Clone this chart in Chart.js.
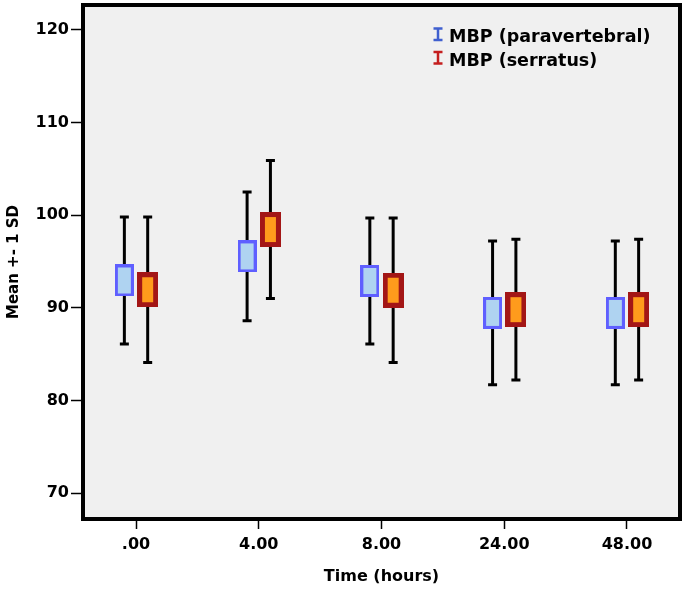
<!DOCTYPE html>
<html>
<head>
<meta charset="utf-8">
<script src="https://cdn.jsdelivr.net/npm/chart.js@4.4.1/dist/chart.umd.min.js"></script>
<style>
  html, body { margin: 0; padding: 0; background: #fff; }
</style>
</head>
<body>
<canvas id="mbpChart" width="685" height="589"></canvas>
<script>
// data
const timeLabels = [".00", "4.00", "8.00", "24.00", "48.00"];
const seriesNames = ["MBP (paravertebral)", "MBP (serratus)"];
const paraMean = [92.95, 95.55, 92.9, 89.45, 89.45];
const paraSD   = [6.85, 6.95, 6.8, 7.75, 7.75];
const serrMean = [91.95, 98.45, 91.9, 89.8, 89.8];
const serrSD   = [7.85, 7.45, 7.8, 7.6, 7.6];
const yTicks = [70, 80, 90, 100, 110, 120];

const FONT = "'DejaVu Sans', sans-serif";
const shift = 0.095; // side-by-side offset of the two groups

// box marker drawn once, used as point style
function boxMarker(w, h, border, stroke, fill) {
    let c = document.createElement("canvas");
    c.width = w; c.height = h;
    let g = c.getContext("2d");
    g.fillStyle = stroke;
    g.fillRect(0, 0, w, h);
    g.fillStyle = fill;
    g.fillRect(border, border, w - 2 * border, h - 2 * border);
    return c;
}
const blueBox = boxMarker(19, 32, 3, "#5f5fff", "#afd3f1");
const redBox = boxMarker(21, 35, 5, "#a31616", "#ff9b1c");

// whiskers (mean +- 1 SD) + background + frame + legend
const errorBars = {
    id: "errorBars",
    beforeDraw(chart) {
        let a = chart.chartArea, ctx = chart.ctx;
        ctx.save();
        ctx.fillStyle = "#f0f0f0";
        ctx.fillRect(a.left, a.top, a.right - a.left, a.bottom - a.top);
        ctx.restore();
    },
    beforeDatasetsDraw(chart) {
        let ctx = chart.ctx, xs = chart.scales.x, ys = chart.scales.y;
        ctx.save();
        ctx.strokeStyle = "#000";
        chart.data.datasets.forEach(ds => {
            ds.data.forEach((p, i) => {
                let x = xs.getPixelForValue(p.x);
                let top = ys.getPixelForValue(p.y + ds.sd[i]);
                let bot = ys.getPixelForValue(p.y - ds.sd[i]);
                ctx.lineWidth = 3;
                ctx.beginPath();
                ctx.moveTo(x, top); ctx.lineTo(x, bot);
                ctx.stroke();
                ctx.beginPath();
                ctx.moveTo(x - 4.5, top); ctx.lineTo(x + 4.5, top);
                ctx.moveTo(x - 4.5, bot); ctx.lineTo(x + 4.5, bot);
                ctx.stroke();
            });
        });
        ctx.restore();
    },
    afterDraw(chart) {
        let a = chart.chartArea, ctx = chart.ctx;
        ctx.save();
        ctx.strokeStyle = "#000";
        ctx.lineWidth = 4;
        ctx.strokeRect(a.left, a.top, a.right - a.left, a.bottom - a.top);

        // legend
        let colors = ["#3f5fcf", "#c41e1e"];
        ctx.font = "bold 17.5px " + FONT;
        ctx.textBaseline = "alphabetic";
        ctx.textAlign = "left";
        seriesNames.forEach((name, k) => {
            let base = 42 + k * 23.5;
            let ix = 438, iy0 = base - 13.5, iy1 = base - 2;
            ctx.strokeStyle = colors[k];
            ctx.lineWidth = 2.5;
            ctx.beginPath();
            ctx.moveTo(ix, iy0); ctx.lineTo(ix, iy1);
            ctx.moveTo(ix - 4.5, iy0); ctx.lineTo(ix + 4.5, iy0);
            ctx.moveTo(ix - 4.5, iy1); ctx.lineTo(ix + 4.5, iy1);
            ctx.stroke();
            ctx.fillStyle = "#000";
            ctx.fillText(name, 449, base);
        });
        ctx.restore();
    }
};

new Chart(document.getElementById("mbpChart"), {
    type: "scatter",
    data: {
        datasets: [
            {
                label: seriesNames[0],
                data: paraMean.map((m, i) => ({ x: i - shift, y: m })),
                sd: paraSD,
                pointStyle: blueBox
            },
            {
                label: seriesNames[1],
                data: serrMean.map((m, i) => ({ x: i + shift, y: m })),
                sd: serrSD,
                pointStyle: redBox
            }
        ]
    },
    options: {
        responsive: false,
        animation: false,
        events: [],
        layout: { padding: { top: 4, right: 5, left: 0, bottom: 0 } },
        plugins: { legend: { display: false }, tooltip: { enabled: false } },
        scales: {
            x: {
                type: "linear",
                min: -0.432,
                max: 4.432,
                afterBuildTicks: s => { s.ticks = timeLabels.map((t, i) => ({ value: i })); },
                afterFit: s => { s.height = 70; s.paddingLeft = 0; s.paddingRight = 0; },
                border: { display: false },
                grid: { drawOnChartArea: false, drawTicks: true, tickLength: 10, tickColor: "#000", tickWidth: 1.5 },
                ticks: {
                    color: "#000",
                    padding: 6,
                    font: { family: FONT, size: 16, weight: "bold" },
                    callback: v => timeLabels[v]
                },
                title: {
                    display: true,
                    text: "Time (hours)",
                    color: "#000",
                    font: { family: FONT, size: 16, weight: "bold" },
                    padding: { top: 0, bottom: 3 }
                }
            },
            y: {
                min: 67.2,
                max: 122.69,
                afterBuildTicks: s => { s.ticks = yTicks.map(v => ({ value: v })); },
                afterFit: s => { s.width = 83; s.paddingTop = 0; s.paddingBottom = 0; },
                border: { display: false },
                grid: { drawOnChartArea: false, drawTicks: true, tickLength: 12, tickColor: "#000", tickWidth: 1.5 },
                ticks: {
                    color: "#000",
                    padding: 2,
                    font: { family: FONT, size: 16, weight: "bold" }
                },
                title: {
                    display: true,
                    text: "Mean +- 1 SD",
                    color: "#000",
                    font: { family: FONT, size: 15, weight: "bold" },
                    padding: { top: 5, bottom: 0 }
                }
            }
        }
    },
    plugins: [errorBars]
});
</script>
</body>
</html>
